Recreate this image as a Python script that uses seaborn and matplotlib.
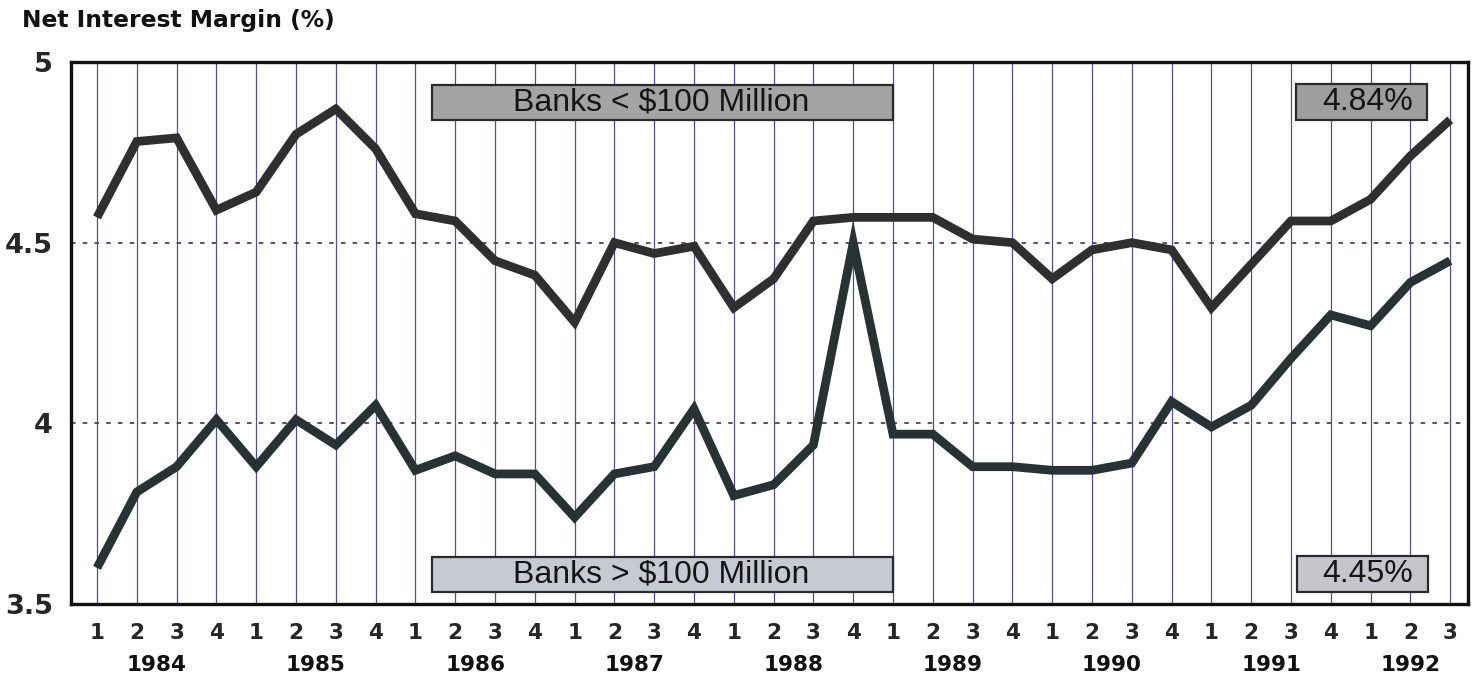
import matplotlib
matplotlib.use("Agg")
import matplotlib.pyplot as plt
import matplotlib.transforms as mtransforms
from matplotlib.patches import Rectangle
from matplotlib.ticker import FixedLocator
import seaborn as sns
import pandas as pd
import numpy as np

# ---------------- data ----------------
years = ["1984", "1985", "1986", "1987", "1988", "1989", "1990", "1991", "1992"]
quarters_per_year = [4, 4, 4, 4, 4, 4, 4, 4, 3]
quarter_labels = ["1", "2", "3", "4"] * 8 + ["1", "2", "3"]

small_banks = [4.57, 4.78, 4.79, 4.59, 4.64, 4.80, 4.87, 4.76,
               4.58, 4.56, 4.45, 4.41, 4.28, 4.50, 4.47, 4.49,
               4.32, 4.40, 4.56, 4.57, 4.57, 4.57, 4.51, 4.50,
               4.40, 4.48, 4.50, 4.48, 4.32, 4.44, 4.56, 4.56,
               4.62, 4.74, 4.84]
large_banks = [3.60, 3.81, 3.88, 4.01, 3.88, 4.01, 3.94, 4.05,
               3.87, 3.91, 3.86, 3.86, 3.74, 3.86, 3.88, 4.04,
               3.80, 3.83, 3.94, 4.50, 3.97, 3.97, 3.88, 3.88,
               3.87, 3.87, 3.89, 4.06, 3.99, 4.05, 4.18, 4.30,
               4.27, 4.39, 4.45]
series_names = ["Banks < $100 Million", "Banks > $100 Million"]
end_labels = ["4.84%", "4.45%"]
y_ticks = [3.5, 4, 4.5, 5]
y_tick_labels = ["3.5", "4", "4.5", "5"]
y_label = "Net Interest Margin (%)"

n = len(small_banks)
df = pd.DataFrame({
    "q": list(range(n)) * 2,
    "nim": small_banks + large_banks,
    "series": [series_names[0]] * n + [series_names[1]] * n,
})

# ---------------- style ----------------
sns.set_style("white")
plt.rcParams["font.family"] = ["Liberation Sans", "DejaVu Sans"]

W, H = 1481, 682
fig = plt.figure(figsize=(W / 100, H / 100), dpi=100)
L, R, T, B = 71, 1468, 62, 604
ax = fig.add_axes([L / W, 1 - B / H, (R - L) / W, (B - T) / H])

def axx(px):
    return (px - L) / (R - L)

def axy(py):
    return (B - py) / (B - T)

sns.lineplot(data=df, x="q", y="nim", hue="series",
             palette={series_names[0]: "#2f2f2f", series_names[1]: "#263233"},
             linewidth=6.3, legend=False, ax=ax, zorder=5)
for line in ax.lines:
    line.set_solid_joinstyle("miter")
    line.set_solid_capstyle("butt")

# axes limits (quarter index 0 at px 97, spacing 39.8)
sp = 39.8
ax.set_xlim(-(97 - L) / sp, (R - 97) / sp)
ax.set_ylim(3.5, 5.0)

# vertical grid lines at every quarter
ax.set_xticks(range(n))
ax.set_xticklabels(quarter_labels, fontsize=15.5, fontweight="bold", family="DejaVu Sans")
ax.tick_params(axis="x", length=0, pad=14)
for q in range(n):
    ax.axvline(q, color="#50509a", lw=0.9, zorder=1)

# y axis
ax.set_yticks(y_ticks)
ax.set_yticklabels(y_tick_labels, fontsize=19.5, fontweight="bold", family="DejaVu Sans")
ax.yaxis.set_minor_locator(FixedLocator([3.75, 4.25, 4.75]))
ax.tick_params(axis="y", which="both", direction="in", length=8, width=1.5, pad=13, color="#111111")
for yv in [4.0, 4.5]:
    ax.axhline(yv, color="#5a3d5c", lw=1.3, ls=(0, (2.5, 4)), zorder=2)

ax.set_xlabel("")
ax.set_ylabel("")
for s in ax.spines.values():
    s.set_linewidth(2.4)
    s.set_color("#111111")

# year labels below quarter labels
trans = mtransforms.blended_transform_factory(ax.transData, fig.transFigure)
start = 0
for yr, cnt in zip(years, quarters_per_year):
    center = start + (cnt - 1) / 2 if cnt == 4 else start + 1
    ax.text(center, 1 - 665 / H, yr, transform=trans, ha="center", va="center",
            fontsize=15.5, fontweight="bold", family="DejaVu Sans", color="#111111")
    start += cnt

# title / y label
fig.text(22 / W, 1 - 20 / H, y_label, ha="left", va="center",
         fontsize=16.8, fontweight="bold", family="DejaVu Sans", color="#111111")

# label boxes
def box(x0, x1, y0, y1, fc, text, tx):
    ax.add_patch(Rectangle((axx(x0), axy(y1)), axx(x1) - axx(x0), axy(y0) - axy(y1),
                           transform=ax.transAxes, facecolor=fc, edgecolor="#2a2a2a",
                           lw=1.6, zorder=6))
    ax.text(axx(tx), axy((y0 + y1) / 2), text, transform=ax.transAxes,
            ha="center", va="center", fontsize=23, color="#151515", zorder=7)

box(432, 893, 85, 120, "#a4a4a4", series_names[0], 661)
box(1296, 1427, 84, 120, "#9e9e9e", end_labels[0], 1368)
box(432, 893, 557, 592, "#c6cad2", series_names[1], 661)
box(1297, 1428, 556, 592, "#c4c6cc", end_labels[1], 1368)

fig.savefig("out.png", dpi=100, facecolor="white")
